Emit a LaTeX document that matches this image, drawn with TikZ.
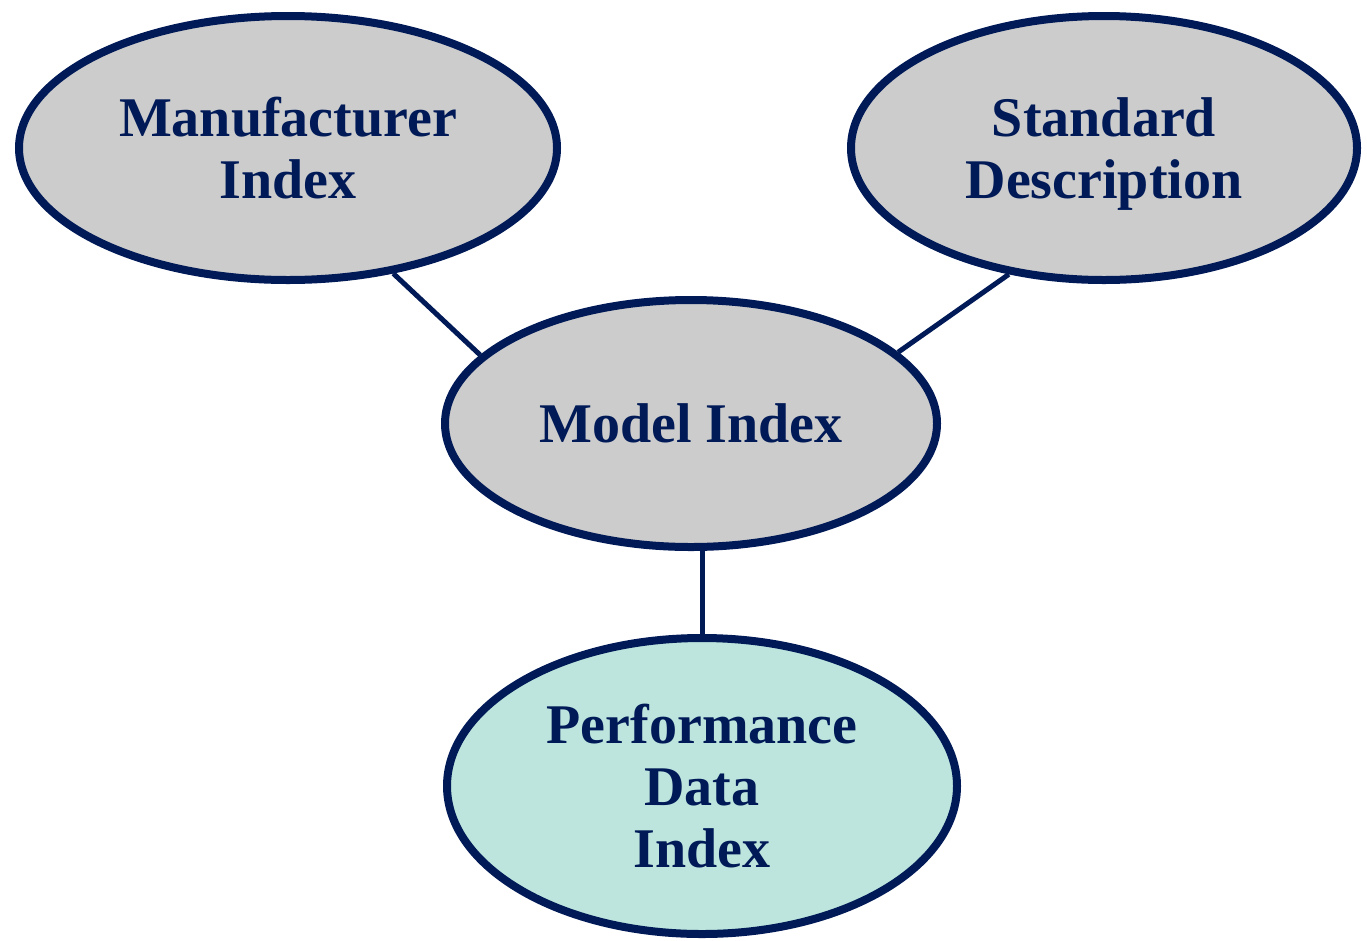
\documentclass[tikz,border=0pt]{standalone}
\usepackage{fontspec}
\setmainfont{Liberation Serif}
\usetikzlibrary{shapes.geometric}
\definecolor{navy}{HTML}{001A57}
\definecolor{txtnavy}{HTML}{001A57}
\definecolor{ovalgray}{HTML}{CCCCCC}
\definecolor{ovalteal}{HTML}{BDE5DE}
\tikzset{
  oval/.style={ellipse, draw=navy, line width=8pt, fill=ovalgray, inner sep=0pt,
    text=txtnavy, align=center, font=\bfseries\fontsize{56}{62}\selectfont},
  tealoval/.style={oval, fill=ovalteal},
  link/.style={draw=navy, line width=5pt}
}
\begin{document}
\begin{tikzpicture}[x=1pt,y=-1pt]
\useasboundingbox (0,0) rectangle (1367,940);
\node[oval, minimum width=538pt, minimum height=264pt] (mfr) at (288,148) {Manufacturer\\Index};
\node[oval, minimum width=506pt, minimum height=264pt] (std) at (1104,148) {Standard\\\raisebox{0pt}[\height][0pt]{Description}};
\node[oval, minimum width=492pt, minimum height=247pt] (model) at (691,423.5) {Model Index};
\node[tealoval, minimum width=510pt, minimum height=296pt] (perf) at (702,786) {Performance\\Data\\Index};
\draw[link] (mfr.-50.4) -- (model.162);
\draw[link] (std.233.9) -- (model.19);
\draw[link] (perf.north) -- (perf.north |- model.south);
\end{tikzpicture}
\end{document}
